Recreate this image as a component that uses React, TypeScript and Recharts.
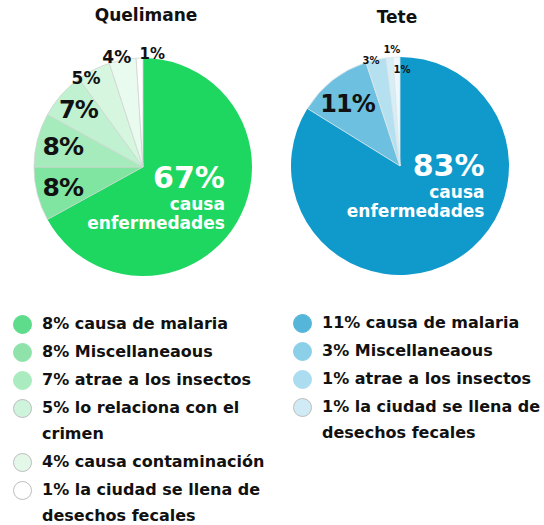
import { PieChart, Pie, Cell } from 'recharts';

const quelimaneCauses = [
  'causa enfermedades',
  'causa de malaria',
  'Miscellaneaous',
  'atrae a los insectos',
  'lo relaciona con el crimen',
  'causa contaminación',
  'la ciudad se llena de desechos fecales',
];
const quelimaneValues = [67, 8, 8, 7, 5, 4, 1];

const teteCauses = [
  'causa enfermedades',
  'causa de malaria',
  'Miscellaneaous',
  'atrae a los insectos',
  'la ciudad se llena de desechos fecales',
];
const teteValues = [83, 11, 3, 1, 1];

const mainCaption = ['causa', 'enfermedades'];

const FONT = "'DejaVu Sans', sans-serif";
const RADIAN = Math.PI / 180;

const quelimaneFills = ['#1ed760', '#7fe5a1', '#a5ebbc', '#c0f1d0', '#d6f6e0', '#e9faef', '#ffffff'];
const quelimaneDots = ['#5edb8b', '#8fe3aa', '#aaecbf', '#cff4dc', '#e4f8ea', '#ffffff'];
const teteFills = ['#0f9acb', '#6dc0df', '#b5e0f0', '#d7eef7', '#eef8fc'];
const teteDots = ['#55b6da', '#8ccfe9', '#acdcef', '#d0ebf6'];

// label placement: radius fraction along the slice middle, plus a nudge
const quelimaneLabelPos = [
  { r: 0.5, dx: 35, dy: -17, size: 30 },
  { r: 0.76, dx: 0, dy: 0, size: 25 },
  { r: 0.76, dx: 0, dy: 0, size: 25 },
  { r: 0.79, dx: 0, dy: 0, size: 24 },
  { r: 0.97, dx: -9, dy: 5, size: 17 },
  { r: 1.04, dx: -5, dy: 1, size: 17 },
  { r: 1.07, dx: 13, dy: 4, size: 15 },
];
const teteLabelPos = [
  { r: 0.5, dx: 58, dy: -48, size: 30 },
  { r: 0.75, dx: -2, dy: 2, size: 24 },
  { r: 1.0, dx: -5, dy: 1, size: 10 },
  { r: 1.07, dx: 3, dy: 0, size: 10 },
  { r: 0.89, dx: 5, dy: 0, size: 10 },
];

const makeData = (causes: string[], values: number[]) =>
  causes.map((name, i) => ({ name, value: values[i] }));

const quelimaneData = makeData(quelimaneCauses, quelimaneValues);
const teteData = makeData(teteCauses, teteValues);

function makeLabel(pos: typeof quelimaneLabelPos) {
  return (props: any) => {
    const { cx, cy, midAngle, outerRadius, index, value } = props;
    const p = pos[index];
    const rr = outerRadius * p.r;
    const x = cx + rr * Math.cos(-midAngle * RADIAN) + p.dx;
    const y = cy + rr * Math.sin(-midAngle * RADIAN) + p.dy;
    if (index === 0) {
      return (
        <g key={`main-${index}`} fontFamily={FONT} fontWeight={700} fill="#fff">
          <text x={x} y={y} textAnchor="end" dominantBaseline="central" fontSize={p.size}>
            {`${value}%`}
          </text>
          <text x={x} y={y + 26} textAnchor="end" dominantBaseline="central" fontSize={17}>
            {mainCaption[0]}
          </text>
          <text x={x} y={y + 45} textAnchor="end" dominantBaseline="central" fontSize={17}>
            {mainCaption[1]}
          </text>
        </g>
      );
    }
    return (
      <text
        key={`lbl-${index}`}
        x={x}
        y={y}
        textAnchor="middle"
        dominantBaseline="central"
        fontFamily={FONT}
        fontWeight={700}
        fontSize={p.size}
        fill="#111"
        letterSpacing={p.size > 20 ? -1 : 0}
      >
        {`${value}%`}
      </text>
    );
  };
}

function LegendColumn({ data, dots, left, top, width }: any) {
  return (
    <div style={{ position: 'absolute', left, top, width, fontFamily: FONT, fontWeight: 700, fontSize: 16, color: '#111' }}>
      {data.slice(1).map((d: any, i: number) => (
        <div key={d.name} style={{ position: 'relative', lineHeight: '26px', marginBottom: 2 }}>
          <span
            style={{
              position: 'absolute',
              left: -20 - 9,
              top: 13 - 9,
              width: 17,
              height: 17,
              borderRadius: '50%',
              background: dots[i],
              border: '1px solid ' + (i >= 3 ? '#bdbdbd' : dots[i]),
            }}
          />
          {`${d.value}% ${d.name}`}
        </div>
      ))}
    </div>
  );
}

export default function App() {
  return (
    <div style={{ position: 'absolute', left: 0, top: 0, width: 544, height: 525, background: '#fff', overflow: 'hidden' }}>
      <div style={{ position: 'absolute', left: 46, top: 5, width: 200, textAlign: 'center', fontFamily: FONT, fontWeight: 700, fontSize: 17, color: '#111' }}>
        Quelimane
      </div>
      <div style={{ position: 'absolute', left: 297, top: 7, width: 200, textAlign: 'center', fontFamily: FONT, fontWeight: 700, fontSize: 17, color: '#111' }}>
        Tete
      </div>
      <div style={{ position: 'absolute', left: 0, top: 0 }}>
        <PieChart width={544} height={290} margin={{ top: 0, right: 0, bottom: 0, left: 0 }}>
          <Pie
            data={quelimaneData}
            dataKey="value"
            cx={143}
            cy={167}
            outerRadius={109}
            startAngle={90}
            endAngle={-270}
            isAnimationActive={false}
            labelLine={false}
            label={makeLabel(quelimaneLabelPos)}
          >
            {quelimaneData.map((d, i) => (
              <Cell key={d.name} fill={quelimaneFills[i]} stroke={i === 0 ? quelimaneFills[0] : '#cfd6d1'} strokeWidth={i === 0 ? 0 : 0.8} />
            ))}
          </Pie>
          <Pie
            data={teteData}
            dataKey="value"
            cx={400}
            cy={166}
            outerRadius={109}
            startAngle={90}
            endAngle={-270}
            isAnimationActive={false}
            labelLine={false}
            label={makeLabel(teteLabelPos)}
          >
            {teteData.map((d, i) => (
              <Cell key={d.name} fill={teteFills[i]} stroke={i === 0 ? teteFills[0] : '#dbe6ea'} strokeWidth={i === 0 ? 0 : 0.8} />
            ))}
          </Pie>
        </PieChart>
      </div>
      <LegendColumn data={quelimaneData} dots={quelimaneDots} left={42} top={311} width={240} />
      <LegendColumn data={teteData} dots={teteDots} left={322} top={310} width={222} />
    </div>
  );
}
